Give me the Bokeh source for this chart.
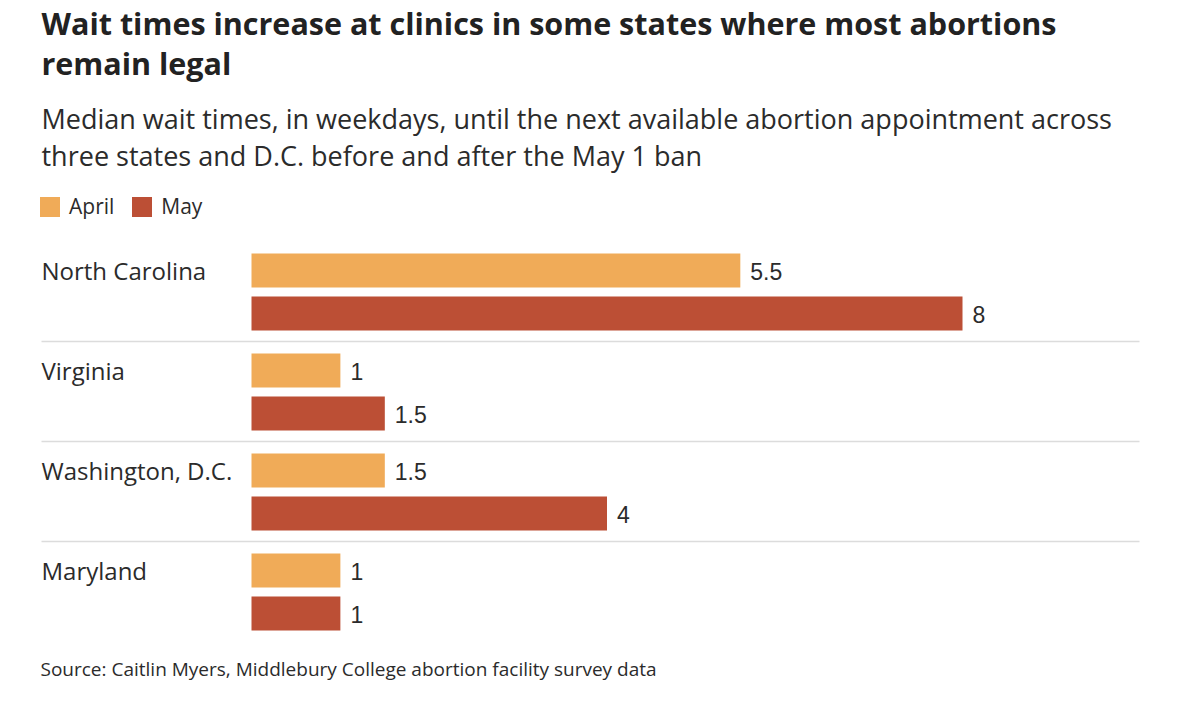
from bokeh.plotting import figure
from bokeh.models import ColumnDataSource, Range1d, Legend, LegendItem
from bokeh.core.properties import value
from bokeh.embed import file_html
from bokeh.resources import INLINE

# ---- data ----
states = ["North Carolina", "Virginia", "Washington, D.C.", "Maryland"]
april = [5.5, 1, 1.5, 1]
may = [8, 1.5, 4, 1]
series_names = ["April", "May"]

title_lines = ["Wait times increase at clinics in some states where most abortions",
               "remain legal"]
subtitle_lines = ["Median wait times, in weekdays, until the next available abortion appointment across",
                  "three states and D.C. before and after the May 1 ban"]
source_text = "Source: Caitlin Myers, Middlebury College abortion facility survey data"

# ---- layout / style ----
W, H = 1184, 690
PX_PER_UNIT = 88.875
X0_PX = 251          # canvas px of value 0
APRIL_COLOR = "#F0AB58"
MAY_COLOR = "#BC4F35"
TEXT_COLOR = "#2b2b2b"
FONT = "Open Sans"
NUM_FONT = "Liberation Sans"
GROUP_TOP = 270      # canvas y of first April bar centre
GROUP_STEP = 100
PAIR_GAP = 43
BAR_H = 34
K = 0.35             # baseline correction factor


def px2x(px):
    return (px - X0_PX) / PX_PER_UNIT


def by(baseline, size):
    return baseline - K * size


p = figure(width=W, height=H, output_backend="svg", toolbar_location=None,
           x_range=Range1d(px2x(0), px2x(W)), y_range=Range1d(H, 0),
           x_axis_location=None, y_axis_location=None, min_border=0,
           outline_line_color=None, background_fill_color="white",
           border_fill_color="white")
p.xgrid.visible = False
p.ygrid.visible = False

n = len(states)
y_april = [GROUP_TOP + GROUP_STEP * i for i in range(n)]
y_may = [y + PAIR_GAP for y in y_april]

src = ColumnDataSource(dict(
    state=states, april=april, may=may, y_april=y_april, y_may=y_may,
    april_lbl=[f"{v:g}" for v in april], may_lbl=[f"{v:g}" for v in may],
    state_y=[by(y + 8, 24) for y in y_april],
    april_lbl_y=[by(y + 9, 23) for y in y_april],
    may_lbl_y=[by(y + 9, 23) for y in y_may],
))

r_a = p.hbar(y="y_april", right="april", left=0, height=BAR_H, source=src,
             fill_color=APRIL_COLOR, line_color=None)
r_m = p.hbar(y="y_may", right="may", left=0, height=BAR_H, source=src,
             fill_color=MAY_COLOR, line_color=None)

# separators between groups
for i in range(n - 1):
    ys = y_april[i] + 71
    p.line([px2x(41), px2x(1139)], [ys, ys], line_color="#dcdcdc", line_width=1.5)

# value labels
p.text(x="april", y="april_lbl_y", text="april_lbl", source=src, x_offset=10,
       text_font=value(NUM_FONT), text_font_size="23px", text_color=TEXT_COLOR,
       text_baseline="alphabetic")
p.text(x="may", y="may_lbl_y", text="may_lbl", source=src, x_offset=10,
       text_font=value(NUM_FONT), text_font_size="23px", text_color=TEXT_COLOR,
       text_baseline="alphabetic")

# state labels
p.text(x=px2x(41), y="state_y", text="state", source=src,
       text_font=value(FONT), text_font_size="24px", text_color=TEXT_COLOR,
       text_baseline="alphabetic")

# title / subtitle / source
for line, yb in zip(title_lines, [33, 73]):
    p.text(x=[px2x(41)], y=[by(yb, 30.5)], text=[line], text_font=value(FONT),
           text_font_size="30.5px", text_font_style="bold", text_color="#222222",
           text_baseline="alphabetic")
for line, yb in zip(subtitle_lines, [127, 164]):
    p.text(x=[px2x(41)], y=[by(yb, 27)], text=[line], text_font=value(FONT),
           text_font_size="27px", text_color=TEXT_COLOR, text_baseline="alphabetic")
p.text(x=[px2x(40)], y=[by(675, 19)], text=[source_text], text_font=value(FONT),
       text_font_size="19px", text_color=TEXT_COLOR, text_baseline="alphabetic")

legend = Legend(items=[LegendItem(label=series_names[0], renderers=[r_a]),
                       LegendItem(label=series_names[1], renderers=[r_m])],
                orientation="horizontal", location=(37, H - 220),
                glyph_width=25, glyph_height=25, label_height=20,
                padding=0, margin=0, spacing=15, label_standoff=7,
                border_line_color=None, background_fill_alpha=0,
                label_text_font=FONT, label_text_font_size="21px",
                label_text_color=TEXT_COLOR)
p.add_layout(legend)

open("out.html", "w").write(file_html(p, INLINE))
